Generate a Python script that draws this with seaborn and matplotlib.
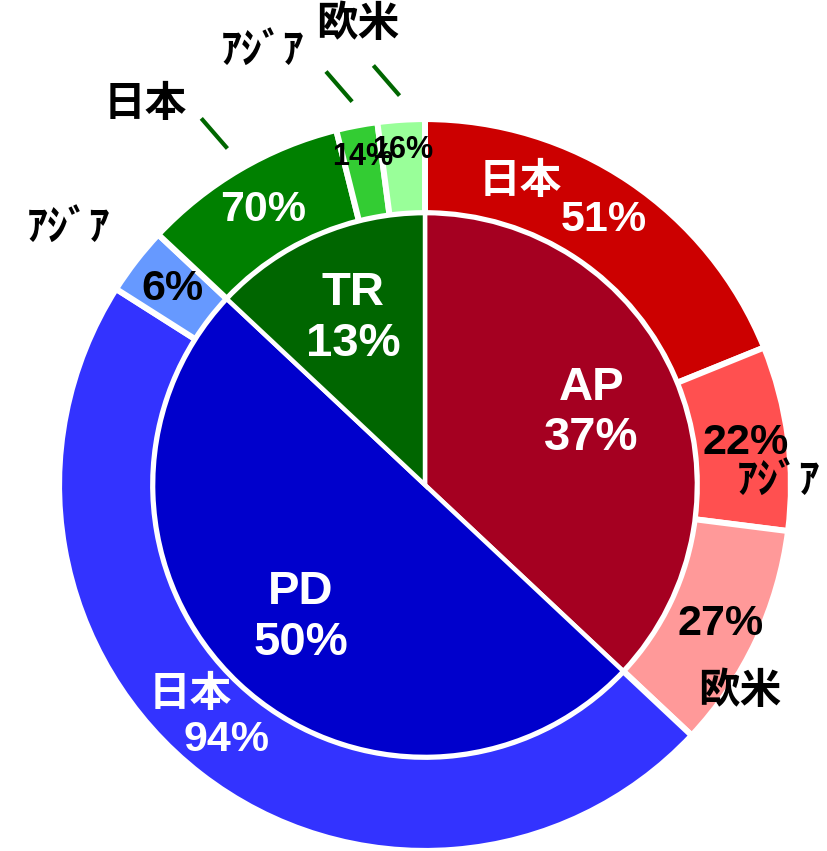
import numpy as np
import matplotlib.pyplot as plt
import seaborn as sns

sns.set_style("white")
plt.rcParams['font.family'] = ['Liberation Sans', 'Noto Sans CJK JP']

# inner pie: business segments
segments = ['AP', 'PD', 'TR']
segment_share = [37, 50, 13]
segment_colors = ['#A50021', '#0000CC', '#006600']

# outer ring: regional split inside each segment (% of that segment)
region_names = ['日本', 'ｱｼﾞｱ', '欧米', '日本', 'ｱｼﾞｱ', '日本', 'ｱｼﾞｱ', '欧米']
region_parent = [0, 0, 0, 1, 1, 2, 2, 2]
region_pct = [51, 22, 27, 94, 6, 70, 14, 16]
region_colors = ['#CC0000', '#FF5050', '#FF9999', '#3333FF', '#6699FF',
                 '#008000', '#33CC33', '#99FF99']

# label styling / placement (angle clockwise from 12 o'clock, radius in ring units)
pct_colors = ['white', 'black', 'black', 'white', 'black', 'white', 'black', 'black']
pct_sizes = [31, 31, 31, 31, 31, 31, 22, 22]
pct_radius = [0.88, 0.89, 0.9, 0.89, 0.88, 0.88, 0.92, 0.925]
name_colors = ['white', 'black', 'black', 'white', 'black', 'black', 'black', 'black']
name_pos = [(17.4, 0.875), (89.5, 0.973), (123.3, 1.038), (228.2, 0.868),
            (305.7, 1.21), (323.6, 1.30), (339.4, 1.275), (351.7, 1.28)]
has_leader = [False, False, False, False, False, True, True, True]

outer_sizes = [segment_share[p] * v / 100 for p, v in zip(region_parent, region_pct)]


def polar(ang, r):
    a = np.deg2rad(ang)
    return r * np.sin(a), r * np.cos(a)


def mid_angles(sizes):
    cum = np.cumsum([0] + list(sizes))
    tot = cum[-1]
    return [(cum[i] + cum[i + 1]) / 2 / tot * 360 for i in range(len(sizes))]


fig = plt.figure(figsize=(8.27, 8.51), dpi=100)
ax = fig.add_axes([0, 0, 1, 1])

ax.pie(outer_sizes, colors=region_colors, radius=1.008, startangle=90, counterclock=False,
       wedgeprops=dict(width=0.259, edgecolor='white', linewidth=4.3))
ax.pie(segment_share, colors=segment_colors, radius=0.749, startangle=90, counterclock=False,
       wedgeprops=dict(edgecolor='white', linewidth=3.2))

for name, share, ang in zip(segments, segment_share, mid_angles(segment_share)):
    x, y = polar(ang, 0.5)
    ax.text(x, y, f'{name}\n{share}%', ha='center', va='center', color='white',
            fontsize=34, fontweight='bold', linespacing=1.2)

for i, ang in enumerate(mid_angles(outer_sizes)):
    x, y = polar(ang, pct_radius[i])
    ax.text(x, y, f'{region_pct[i]}%', ha='center', va='center', color=pct_colors[i],
            fontsize=pct_sizes[i], fontweight='bold')
    nx, ny = polar(*name_pos[i])
    ax.text(nx, ny, region_names[i], ha='center', va='center', color=name_colors[i],
            fontsize=30, fontweight='bold')
    if has_leader[i]:
        lx, ly = polar(ang, 1.075)
        ax.plot([lx, lx - 0.072], [ly, ly + 0.083], color='#006600', lw=3,
                solid_capstyle='butt')

ax.set_xlim(-425 / 363, 402 / 363)
ax.set_ylim(-366 / 363, 485 / 363)
ax.axis('off')

fig.savefig('out.png', dpi=100)
